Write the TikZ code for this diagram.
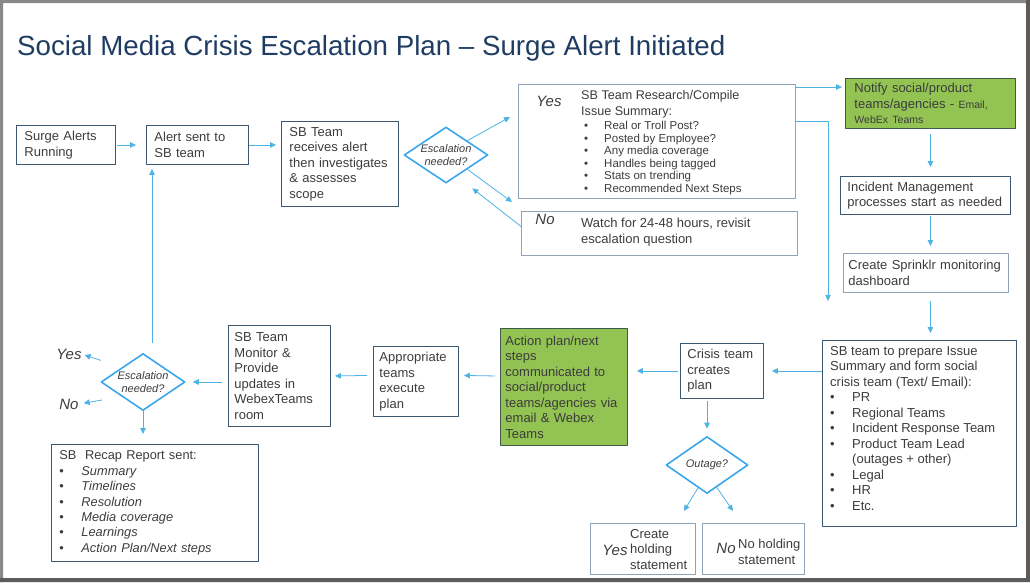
\documentclass[tikz,border=0pt]{standalone}
\usepackage{fontspec}
\setmainfont{Liberation Sans}
\usetikzlibrary{shapes.geometric,arrows.meta,calc}
\definecolor{titleblue}{HTML}{1F3D63}
\definecolor{boxline}{HTML}{3B5670}
\definecolor{softline}{HTML}{8DA2B6}
\definecolor{flow}{HTML}{4DB2E4}
\definecolor{decide}{HTML}{3AA6EC}
\definecolor{leaf}{HTML}{92C353}
\definecolor{leafline}{HTML}{3F5A4A}
\definecolor{ink}{HTML}{3C3C3C}
\definecolor{rim}{HTML}{8A8787}
\definecolor{rimdark}{HTML}{5E5B5B}
\newcommand{\bul}[1][22pt]{\makebox[#1][l]{\textbullet}}
\tikzset{
  box/.style={draw=boxline, line width=0.9pt, anchor=north west, align=left, text=ink,
    inner xsep=8pt, inner ysep=0pt, font=\fontsize{13}{15.5}\selectfont},
  softbox/.style={box, draw=softline},
  greenbox/.style={box, fill=leaf, draw=leafline},
  decision/.style={diamond, draw=decide, line width=1.6pt, inner sep=0pt, aspect=1.5,
    text=ink, align=center, font=\fontsize{11}{13}\selectfont\itshape},
  answer/.style={text=ink, font=\fontsize{15}{17}\selectfont\itshape, inner sep=0pt},
  lbl/.style={anchor=north west, align=left, text=ink, inner sep=0pt, font=\fontsize{13}{15.5}\selectfont},
  arr/.style={->, draw=flow, line width=0.8pt},
}
\begin{document}
\begin{tikzpicture}[x=1pt, y=-1pt, line join=round, >={Triangle[length=6pt,width=5.5pt]}]
\useasboundingbox (0,0) rectangle (1030,582);
% frame
\fill[rim] (0,0) rectangle (1030,3) (0,0) rectangle (3,582);
\fill[rimdark] (1026,0) rectangle (1030,582) (0,578) rectangle (1030,582);
\node[anchor=north west, inner sep=0pt, text=titleblue, font=\fontsize{27.7}{30}\selectfont] (title) at (17,35) {Social Media Crisis Escalation Plan -- Surge Alert Initiated};
% top row
\node[box, minimum width=99pt, minimum height=39pt, text width=83pt] (surge) at (16,125) {Surge Alerts\\Running};
\node[box, minimum width=102pt, minimum height=39pt, text width=86pt] (alert) at (146,125) {Alert sent to\\SB team};
\node[box, minimum width=117pt, minimum height=85pt, text width=101pt] (sbteam) at (281,121) {SB Team\\receives alert\\then investigates\\\& assesses\\scope};
\node[decision, minimum width=84pt, minimum height=56pt] (esc1) at (446,155) {Escalation\\needed?};
\node[softbox, minimum width=277pt, minimum height=114pt] (yes) at (518,84) {};
\node[answer] (yes word) at (549,101) {Yes};
\node[lbl, font=\fontsize{12.6}{16}\selectfont] (yes head) at (581,90) {SB Team Research/Compile\\Issue Summary:};
\node[lbl, font=\fontsize{11.5}{12.6}\selectfont] (yes list) at (584,121) {\bul[20pt]Real or Troll Post?\\\bul[20pt]Posted by Employee?\\\bul[20pt]Any media coverage\\\bul[20pt]Handles being tagged\\\bul[20pt]Stats on trending\\\bul[20pt]Recommended Next Steps};
\node[softbox, minimum width=276pt, minimum height=44pt] (no) at (521,211) {};
\node[answer] (no word) at (545,219) {No};
\node[lbl] (no text) at (581,218) {Watch for 24-48 hours, revisit\\escalation question};
% right column
\node[greenbox, minimum width=170pt, minimum height=50pt, text width=152pt, inner xsep=9pt] (notify) at (845,78) {Notify social/product\\teams/agencies - {\fontsize{10.5}{12}\selectfont Email,}\\{\fontsize{10.5}{12}\selectfont WebEx Teams}};
\node[box, minimum width=170pt, minimum height=38pt, text width=156pt, inner xsep=7pt] (incident) at (840,176) {Incident Management\\processes start as needed};
\node[softbox, minimum width=165pt, minimum height=39pt, text width=155pt, inner xsep=5pt] (sprinklr) at (843,253) {Create Sprinklr monitoring\\dashboard};
\node[box, minimum width=194pt, minimum height=186pt] (prepare) at (822,340) {};
\node[lbl] (prepare text) at (830,346) {SB team to prepare Issue\\Summary and form social\\crisis team (Text/ Email):\\\bul PR\\\bul Regional Teams\\\bul Incident Response Team\\\bul Product Team Lead\\\hspace*{22pt}(outages + other)\\\bul Legal\\\bul HR\\\bul Etc.};
% bottom row
\node[box, minimum width=83pt, minimum height=55pt, text width=69pt, inner xsep=7pt] (crisis) at (680,343) {Crisis team\\creates\\plan};
\node[greenbox, minimum width=127pt, minimum height=117pt, text width=117pt, inner xsep=5pt] (action) at (500,328) {Action plan/next\\steps\\communicated to\\social/product\\teams/agencies via\\email \& Webex\\Teams};
\node[box, minimum width=85pt, minimum height=70pt, text width=73pt, inner xsep=6pt] (appr) at (373,346) {Appropriate\\teams\\execute\\plan};
\node[box, minimum width=102pt, minimum height=101pt, text width=90pt, inner xsep=6pt] (monitor) at (228,325) {SB Team\\Monitor \&\\Provide\\updates in\\WebexTeams\\room};
\node[decision, minimum width=84pt, minimum height=57pt] (esc2) at (143,382) {Escalation\\needed?};
\node[answer] (yes2) at (69,354) {Yes};
\node[answer] (no2) at (69,404) {No};
\node[box, minimum width=207pt, minimum height=117pt, text width=191pt, font=\fontsize{12.8}{15.4}\selectfont] (recap) at (51,444) {SB\ \ Recap Report sent:\\\bul\textit{Summary}\\\bul\textit{Timelines}\\\bul\textit{Resolution}\\\bul\textit{Media coverage}\\\bul\textit{Learnings}\\\bul\textit{Action Plan/Next steps}};
\node[decision, minimum width=82pt, minimum height=57pt] (outage) at (707,465) {Outage?};
\node[softbox, minimum width=105pt, minimum height=51pt] (holdyes) at (590,523) {};
\node[answer] (holdyes word) at (615,550) {Yes};
\node[lbl] (holdyes text) at (630,529) {Create\\holding\\statement};
\node[softbox, minimum width=102pt, minimum height=51pt] (holdno) at (702,523) {};
\node[answer] (holdno word) at (726,548) {No};
\node[lbl] (holdno text) at (738,539) {No holding\\statement};
% connectors
\draw[arr, shorten <=1pt, shorten >=10pt] (surge) -- (alert);
\draw[arr, shorten >=5pt] (alert.east) -- (alert.east -| sbteam.west);
\draw[arr] ($(esc2.north)+(9,-10)$) -- ($(alert.south west)+(6,4)$);
\draw[arr] (esc1.north east) -- ($(yes.north west)+(-8,33)$);
\draw[arr] (esc1.south east) -- ($(no.north west)+(-9,-9)$);
\draw[arr] ($(no.west)+(0,-7)$) -- ($(esc1.south east)+(5,19)$);
\draw[arr] ($(yes.north east)+(0,3)$) -- ($(notify.north west)+(-3,9)$);
\draw[arr] ($(yes.east)+(0,-20)$) -| ($(sprinklr.south west)+(-15,8)$);
\draw[arr, shorten <=5pt, shorten >=9pt] (notify.south) -- (notify.south |- incident.north);
\draw[arr, shorten <=1pt, shorten >=7pt] (incident.south -| notify.south) -- (notify.south |- sprinklr.north);
\draw[arr, shorten <=8pt, shorten >=7pt] (sprinklr.south -| notify.south) -- (notify.south |- prepare.north);
\draw[arr, shorten >=8pt] (crisis.east -| prepare.west) -- (crisis.east);
\draw[arr, shorten <=2pt, shorten >=9pt] (crisis.west) -- (crisis.west -| action.east);
\draw[arr] ($(action.west)+(-5,-11)$) -- ($(appr.east)+(5,-6)$);
\draw[arr] ($(appr.west)+(-6,-6)$) -- ($(monitor.east)+(4,0)$);
\draw[arr, shorten <=6pt, shorten >=7pt] (monitor.west |- esc2) -- (esc2.east);
\draw[arr, shorten <=22pt, shorten >=3pt] (esc2.north west) -- (yes2.east);
\draw[arr, shorten <=20pt, shorten >=5pt] (esc2.south west) -- (no2.east);
\draw[arr, shorten >=10pt] (esc2.south) -- (esc2.south |- recap.north);
\draw[arr, shorten <=2pt, shorten >=7pt] (outage.north |- crisis.south) -- (outage.north);
\draw[arr] ($(outage.south)+(-8,-8)$) -- ($(holdyes.north east)+(-12,-12)$);
\draw[arr] ($(outage.south)+(9,-8)$) -- ($(holdno.north west)+(31,-12)$);
\end{tikzpicture}
\end{document}
